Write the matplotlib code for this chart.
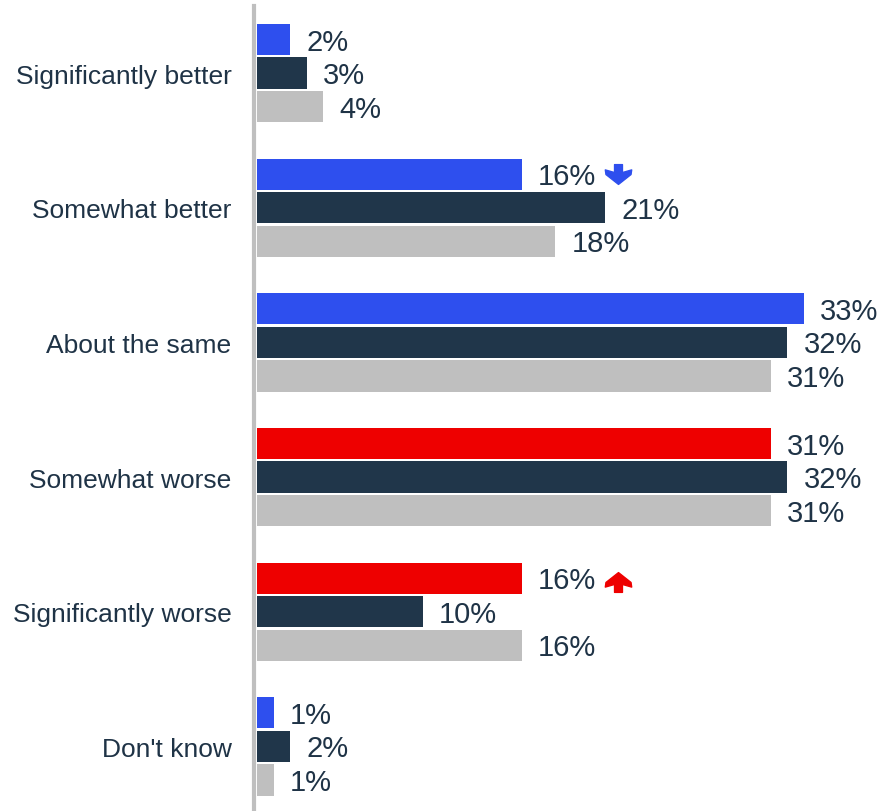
import matplotlib.pyplot as plt
import matplotlib.transforms as mtransforms
from matplotlib.path import Path

plt.rcParams['font.family'] = ['Liberation Sans', 'DejaVu Sans']

categories = ['Significantly better', 'Somewhat better', 'About the same',
              'Somewhat worse', 'Significantly worse', "Don't know"]
current = [2, 16, 33, 31, 16, 1]
previous = [3, 21, 32, 32, 10, 2]
earlier = [4, 18, 31, 31, 16, 1]
# direction of significant change for the current series (0 = none)
change = [0, -1, 0, 0, 1, 0]

blue = '#2E4FEE'
red = '#EE0000'
navy = '#20364A'
grey = '#BFBFBF'
text_col = '#1F3346'

cur_colors = [blue, blue, blue, red, red, blue]

fig = plt.figure(figsize=(8.77, 8.12), dpi=100)
ax = fig.add_axes([257 / 877, 0, 620 / 877, 1])

ax.spines['left'].set_position(('data', -0.2))

off = 0.249
h = 0.232
ys = list(range(len(categories)))
for i, y in enumerate(ys):
    ax.barh(y - off, current[i], height=h, color=cur_colors[i])
    ax.barh(y, previous[i], height=h, color=navy)
    ax.barh(y + off, earlier[i], height=h, color=grey)
    for v, yy in ((current[i], y - off), (previous[i], y), (earlier[i], y + off)):
        ax.annotate(f'{v}%', (v, yy), xytext=(11.5, -1.5), textcoords='offset points',
                    va='center', ha='left', fontsize=21, color=text_col)

# block arrows marking significant change
arrow_down = Path([(-0.3, 0.9), (0.3, 0.9), (0.3, 0.3), (1.0, 0.5), (0.95, 0.15),
                   (0.0, -0.6), (-0.95, 0.15), (-1.0, 0.5), (-0.3, 0.3), (-0.3, 0.9)],
                  closed=True)
arrow_up = Path([(x, -y) for x, y in arrow_down.vertices], closed=True)
for i, y in enumerate(ys):
    if change[i] == 0:
        continue
    tr = mtransforms.offset_copy(ax.transData, fig=fig, x=69, y=-1, units='points')
    ax.plot(current[i], y - off, marker=arrow_down if change[i] < 0 else arrow_up,
            markersize=19, color=cur_colors[i], transform=tr, clip_on=False)

ax.set_xlim(0, 37.4)
ax.set_ylim(5.48, -0.55)
ax.set_yticks(ys)
ax.set_yticklabels(categories, fontsize=19, color=text_col)
ax.tick_params(axis='y', length=0, pad=16)
ax.set_xticks([])
for s in ['top', 'right', 'bottom']:
    ax.spines[s].set_visible(False)
ax.spines['left'].set_color(grey)
ax.spines['left'].set_linewidth(3)
ax.spines['left'].set_bounds(-0.5, 5.48)

fig.savefig('out.png', dpi=100)
